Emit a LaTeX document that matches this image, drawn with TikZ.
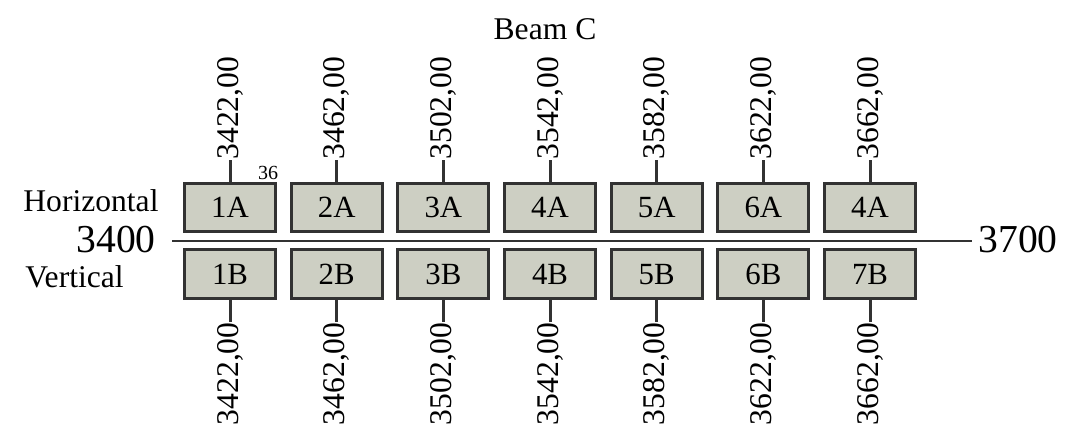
\documentclass[tikz,border=0pt]{standalone}
\usepackage{fontspec}
\setmainfont{Liberation Serif}
\usepackage{tikz}
\usetikzlibrary{positioning}
\definecolor{boxfill}{RGB}{205,207,195}
\definecolor{edgegray}{RGB}{50,50,50}
\tikzstyle{slot}=[draw=edgegray,fill=boxfill,line width=1.5pt,minimum width=45.5pt,minimum height=24.25pt,inner sep=0pt,text height=10.2pt,text depth=0pt,font=\fontsize{15.4}{17}\selectfont]
\tikzstyle{tick}=[draw=edgegray,line width=1.5pt]
\tikzstyle{dimlabel}=[rotate=90,inner sep=0pt,font=\fontsize{15.8}{17}\selectfont]
\tikzstyle{sidelabel}=[inner sep=0pt,font=\fontsize{15.8}{18}\selectfont]
\tikzstyle{endlabel}=[inner sep=0pt,font=\fontsize{19.8}{22}\selectfont]

\begin{document}
\begin{tikzpicture}[x=0.5pt,y=-0.5pt]
\useasboundingbox (0,0) rectangle (1069,432);

\node [sidelabel] (title) at (545,29) {Beam C};

\foreach \i/\ta/\tb in {1/1A/1B,2/2A/2B,3/3A/3B,4/4A/4B,5/5A/5B,6/6A/6B,7/4A/7B} {
  \pgfmathsetmacro\xc{230+(\i-1)*106.67}
  \pgfmathtruncatemacro\dimv{3382+40*\i}
  \node [slot] (a\i) at (\xc,207.5) {\ta};
  \node [slot] (b\i) at (\xc,274) {\tb};
  \coordinate (ta\i) at (\xc,160);
  \coordinate (tb\i) at (\xc,322);
  \draw [tick] (a\i.north) -- (ta\i);
  \draw [tick] (b\i.south) -- (tb\i);
  \node [dimlabel,anchor=west] (va\i) at (ta\i) {\dimv,00};
  \node [dimlabel,anchor=east] (vb\i) at (tb\i) {\dimv,00};
}

\node [inner sep=0pt,font=\fontsize{10}{12}\selectfont] (gap) at (268,173) {36};

\node [sidelabel,anchor=west] (horiz) at (23,201) {Horizontal};
\node [sidelabel,anchor=west] (vert) at (25,277) {Vertical};
\node [endlabel,anchor=east] (start) at (156,240) {3400};
\node [endlabel,anchor=west] (end) at (978,240) {3700};
\draw [draw=edgegray,line width=1pt] ([xshift=8pt,yshift=-0.5pt]start.east) -- ([xshift=-3pt,yshift=-0.5pt]end.west);
\end{tikzpicture}
\end{document}
